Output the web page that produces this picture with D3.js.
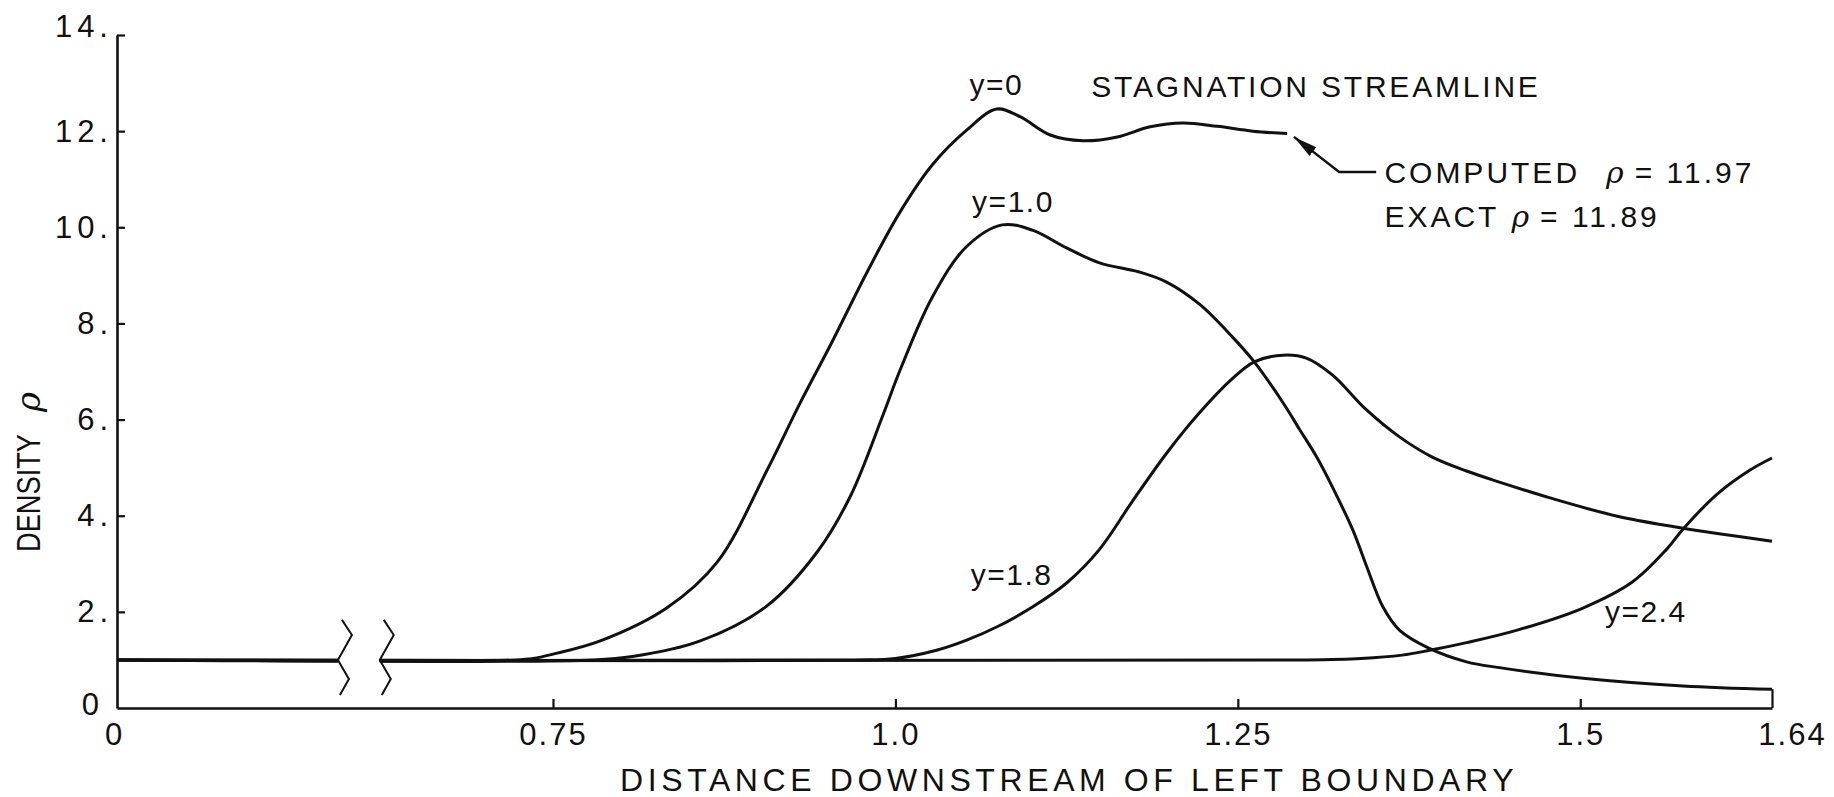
<!DOCTYPE html>
<html>
<head>
<meta charset="utf-8">
<script src="https://cdn.jsdelivr.net/npm/d3@7"></script>
<style>
	html, body { margin: 0; padding: 0; background: #fff; }
	svg { display: block; }
	text { font-family: "Liberation Sans", Arial, sans-serif; fill: #111; }
</style>
</head>
<body>
<svg id="chart"></svg>
<script>
/* jshint esversion: 6 */

// Axis ticks
const xTicks = [0, 0.75, 1.0, 1.25, 1.5, 1.64];
const xTickLabels = ["0", "0.75", "1.0", "1.25", "1.5", "1.64"];
const yTicks = [0, 2, 4, 6, 8, 10, 12, 14];
const yTickLabels = ["0", "2.", "4.", "6.", "8.", "10.", "12.", "14."];

// axis break between 0 and 0.75
const breakAt = [0.380, 0.452];

// density along streamlines, [distance, rho]
const streamY00 = [[0, 1], [0.685, 1.0], [0.716, 1.03], [0.75, 1.12], [0.784, 1.39], [0.833, 2.08],
	[0.87, 3.04], [0.906, 4.93], [0.93, 6.32], [0.954, 7.63], [0.979, 9.05], [1.003, 10.3],
	[1.027, 11.3], [1.052, 12.02], [1.074, 12.46], [1.091, 12.3], [1.113, 11.92], [1.137, 11.8],
	[1.162, 11.88], [1.186, 12.09], [1.21, 12.17], [1.235, 12.1], [1.261, 12.0], [1.286, 11.95]];

const streamY10 = [[0, 1], [0.78, 1.0], [0.808, 1.07], [0.857, 1.39], [0.906, 2.12], [0.943, 3.25],
	[0.967, 4.4], [0.991, 6.1], [1.003, 7.0], [1.027, 8.55], [1.052, 9.6], [1.078, 10.05],
	[1.10, 9.94], [1.125, 9.57], [1.149, 9.26], [1.178, 9.07], [1.198, 8.86], [1.222, 8.4],
	[1.246, 7.72], [1.262, 7.2], [1.283, 6.35], [1.295, 5.8], [1.308, 5.2], [1.319, 4.6],
	[1.334, 3.7], [1.344, 2.95], [1.356, 2.1], [1.368, 1.62], [1.389, 1.25], [1.417, 0.96],
	[1.441, 0.84], [1.502, 0.62], [1.575, 0.46], [1.64, 0.39]];

const streamY18 = [[0, 1], [0.97, 1.0], [1.0, 1.03], [1.03, 1.2], [1.052, 1.41], [1.075, 1.7],
	[1.10, 2.1], [1.125, 2.6], [1.149, 3.3], [1.173, 4.3], [1.198, 5.3], [1.222, 6.14],
	[1.246, 6.85], [1.262, 7.2], [1.283, 7.34], [1.30, 7.28], [1.319, 6.93], [1.344, 6.2],
	[1.368, 5.64], [1.392, 5.22], [1.417, 4.93], [1.441, 4.7], [1.478, 4.37], [1.527, 3.99],
	[1.571, 3.76], [1.60, 3.63], [1.64, 3.47]];

const streamY24 = [[0, 1], [1.30, 1.0], [1.34, 1.03], [1.37, 1.1], [1.39, 1.2], [1.417, 1.36],
	[1.454, 1.62], [1.502, 2.08], [1.538, 2.62], [1.563, 3.3], [1.575, 3.72], [1.60, 4.45],
	[1.624, 4.95], [1.64, 5.2]];

// curve labels, anchored at [distance, rho]
const curveLabels = ["y=0", "y=1.0", "y=1.8", "y=2.4"];
const curveLabelAt = [[1.054, 12.75], [1.056, 10.32], [1.055, 2.56], [1.518, 1.79]];

const titleText = "STAGNATION STREAMLINE";
const titleAt = [1.143, 12.71];

const computedRho = 11.97;
const exactRho = 11.89;
const leaderAt = [[1.291, 11.88], [1.324, 11.15], [1.351, 11.15]];
const noteAt = [[1.357, 10.92], [1.357, 10.0]];

(function(){
	///////////////////////////////////////////////////////////////////
	//// Set up ///////////////////////////////////////////////////////
	///////////////////////////////////////////////////////////////////
	const margin = {top: 35, right: 62, bottom: 89, left: 117};
	const width = 1834 - margin.left - margin.right;
	const height = 797 - margin.top - margin.bottom;

	// broken x axis: 0..0.75 squeezed
	const x = d3.scaleLinear()
			.domain([0, 0.75, 1.64])
			.range([0, 436, width]);

	const y = d3.scaleLinear()
			.domain([0, 14])
			.range([height, 0]);

	const svg = d3.select("#chart")
			.attr("width", width + margin.left + margin.right)
			.attr("height", height + margin.top + margin.bottom);

	svg.append("rect")
			.attr("width", "100%")
			.attr("height", "100%")
			.style("fill", "#fff");

	const defs = svg.append("defs");

	const clip = defs.append("clipPath")
			.attr("id", "break-clip");
	clip.append("rect")
			.attr("x", -10)
			.attr("y", -margin.top)
			.attr("width", x(breakAt[0]) + 10)
			.attr("height", height + margin.top);
	clip.append("rect")
			.attr("x", x(breakAt[1]))
			.attr("y", -margin.top)
			.attr("width", width - x(breakAt[1]) + 10)
			.attr("height", height + margin.top);

	defs.append("marker")
			.attr("id", "arrow")
			.attr("viewBox", "0 -7 26 14")
			.attr("refX", 24)
			.attr("refY", 0)
			.attr("markerUnits", "userSpaceOnUse")
			.attr("markerWidth", 26)
			.attr("markerHeight", 14)
			.attr("orient", "auto-start-reverse")
		.append("path")
			.attr("d", "M0,-5.5L24,0L0,5.5Z")
			.style("fill", "#111");

	const g = svg.append("g")
			.attr("transform", `translate(${margin.left}, ${margin.top})`);

	///////////////////////////////////////////////////////////////////
	//// Axes /////////////////////////////////////////////////////////
	///////////////////////////////////////////////////////////////////
	const xAxisG = g.append("g")
			.attr("class", "axis x-axis")
			.attr("transform", `translate(0, ${height})`)
			.call(d3.axisBottom(x)
				.tickValues(xTicks)
				.tickFormat((d, i) => xTickLabels[i])
				.tickSize(-9)
				.tickSizeOuter(0)
				.tickPadding(15));

	const yAxisG = g.append("g")
			.attr("class", "axis y-axis")
			.call(d3.axisLeft(y)
				.tickValues(yTicks)
				.tickFormat((d, i) => yTickLabels[i])
				.tickSize(-8)
				.tickSizeOuter(0)
				.tickPadding(4));

	g.selectAll(".axis .domain")
			.style("stroke", "#111")
			.style("stroke-width", 2.6);

	g.selectAll(".axis .tick line")
			.style("stroke", "#111")
			.style("stroke-width", 2.2);

	g.selectAll(".axis text")
			.style("font-family", "\"Liberation Sans\", Arial, sans-serif")
			.style("font-size", "31px")
			.style("letter-spacing", "2px")
			.style("fill", "#111");

	yAxisG.selectAll("text")
			.style("letter-spacing", "5px");

	xAxisG.selectAll(".tick")
			.filter(d => d === 0)
			.select("line").remove();

	// right end closes up to the last curve value
	xAxisG.selectAll(".tick")
			.filter(d => d === 1.64)
			.select("line")
			.attr("y2", y(streamY10[streamY10.length - 1][1]) - height);

	xAxisG.selectAll(".tick")
			.filter(d => d === 1.64)
			.select("text")
			.attr("dx", 20);

	xAxisG.selectAll(".tick")
			.filter(d => d === 0)
			.select("text")
			.attr("dx", -3);

	yAxisG.selectAll(".tick")
			.filter(d => d === 0)
			.select("line").remove();

	// "0" has no trailing point, so it sits further left
	yAxisG.selectAll(".tick")
			.filter(d => d === 0)
			.select("text")
			.attr("dx", -9)
			.attr("y", -3);

	yAxisG.selectAll(".tick")
			.filter(d => d === 14)
			.select("text")
			.attr("y", -8);

	// axis titles
	g.append("text")
			.attr("x", 503)
			.attr("y", height + 83)
			.style("font-size", "32px")
			.style("letter-spacing", "4.6px")
			.text("DISTANCE DOWNSTREAM OF LEFT BOUNDARY");

	const yTitle = g.append("text")
			.attr("transform", `translate(${40 - margin.left}, ${552 - margin.top}) rotate(-90)`)
			.style("font-size", "34px");
	yTitle.append("tspan")
			.attr("textLength", 118)
			.attr("lengthAdjust", "spacingAndGlyphs")
			.text("DENSITY");
	yTitle.append("tspan")
			.attr("dx", 22)
			.style("font-style", "italic")
			.style("font-family", "\"DejaVu Serif\", serif")
			.text("\u03c1");

	///////////////////////////////////////////////////////////////////
	//// Curves ///////////////////////////////////////////////////////
	///////////////////////////////////////////////////////////////////
	const line = d3.line()
			.x(d => x(d[0]))
			.y(d => y(d[1]))
			.curve(d3.curveCatmullRom.alpha(0.5));

	g.append("g")
			.attr("class", "curves")
			.attr("clip-path", "url(#break-clip)")
		.selectAll(".line")
		.data([streamY00, streamY10, streamY18, streamY24])
		.enter().append("path")
			.attr("class", "line")
			.attr("d", line)
			.style("fill", "none")
			.style("stroke", "#111")
			.style("stroke-width", 3)
			.style("stroke-linejoin", "round");

	// break symbols on the upstream line
	const breakShape = [[4, -40], [14, -25], [0, 0], [11, 19], [2, 35]];
	g.selectAll(".break")
		.data(breakAt)
		.enter().append("path")
			.attr("class", "break")
			.attr("d", b => d3.line()(breakShape.map(p => [x(b) + p[0], y(1) + p[1]])))
			.style("fill", "none")
			.style("stroke", "#111")
			.style("stroke-width", 2);

	///////////////////////////////////////////////////////////////////
	//// Labels ///////////////////////////////////////////////////////
	///////////////////////////////////////////////////////////////////
	g.selectAll(".curve-label")
		.data(curveLabels)
		.enter().append("text")
			.attr("class", "curve-label")
			.attr("x", (d, i) => x(curveLabelAt[i][0]))
			.attr("y", (d, i) => y(curveLabelAt[i][1]))
			.style("font-size", "30px")
			.style("letter-spacing", "1.5px")
			.text(d => d);

	g.append("text")
			.attr("x", x(titleAt[0]))
			.attr("y", y(titleAt[1]))
			.style("font-size", "30px")
			.style("letter-spacing", "2.8px")
			.text(titleText);

	g.append("path")
			.attr("d", d3.line()(leaderAt.map(p => [x(p[0]), y(p[1])])))
			.attr("marker-start", "url(#arrow)")
			.style("fill", "none")
			.style("stroke", "#111")
			.style("stroke-width", 2.4);

	const notes = [["COMPUTED", computedRho], ["EXACT", exactRho]];
	notes.forEach((n, i) => {
		const t = g.append("text")
				.attr("x", x(noteAt[i][0]))
				.attr("y", y(noteAt[i][1]))
				.style("font-size", "30px")
				.style("letter-spacing", "3px");
		t.append("tspan").text(n[0]);
		t.append("tspan")
				.attr("dx", i === 0 ? 26 : 12)
				.style("font-style", "italic")
				.style("font-family", "\"DejaVu Serif\", serif")
				.text("\u03c1");
		t.append("tspan")
				.attr("dx", 8)
				.text("= " + d3.format(".2f")(n[1]));
	});
}());
</script>
</body>
</html>
